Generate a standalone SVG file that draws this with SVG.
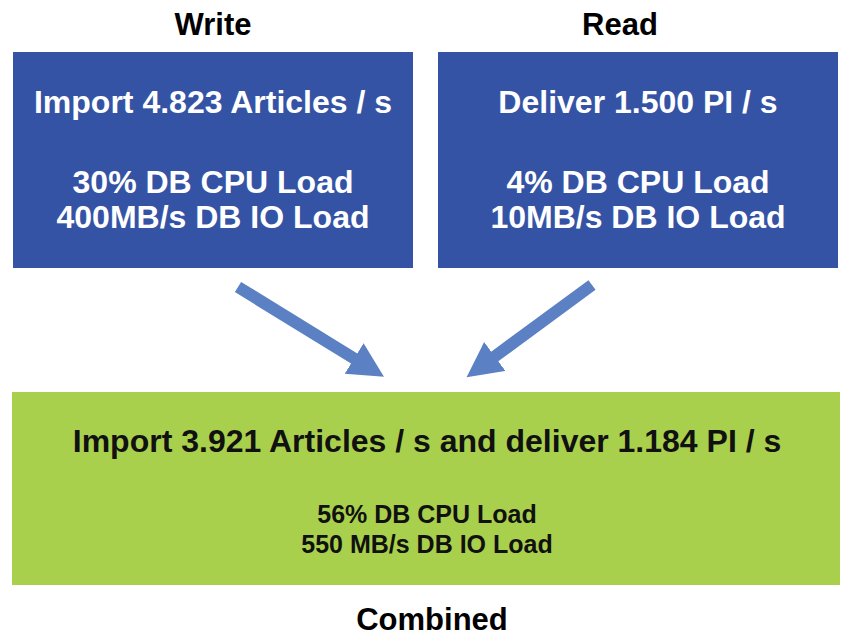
<svg xmlns="http://www.w3.org/2000/svg" width="843" height="637" viewBox="0 0 843 637">
<style>
  text { font-family: "Liberation Sans", Arial, sans-serif; font-weight: bold; text-anchor: middle; }
  .title { font-size: 31px; fill: #000; }
  .w { font-size: 32px; fill: #fff; }
  .g1 { font-size: 32px; fill: #111; }
  .g2 { font-size: 25px; fill: #111; }
  .blue { fill: #3553A5; }
  .green { fill: #A9D04C; }
  .arrow { stroke: #5B80C4; stroke-width: 12; fill: none; }
</style>
<defs>
  <marker id="ah" markerUnits="userSpaceOnUse" markerWidth="36" markerHeight="40" refX="1" refY="18" orient="auto">
    <path d="M0,0 L35,18 L0,36 z" fill="#5B80C4"/>
  </marker>
</defs>
<text class="title" x="213" y="35">Write</text>
<text class="title" x="620" y="35">Read</text>
<g id="write">
  <rect class="blue" x="13" y="52" width="400" height="216"/>
  <text class="w" x="213" y="113">Import 4.823 Articles / s</text>
  <text class="w" x="213" y="193">30% DB CPU Load</text>
  <text class="w" x="213" y="228">400MB/s DB IO Load</text>
</g>
<g id="read">
  <rect class="blue" x="438" y="52" width="400" height="216"/>
  <text class="w" x="638" y="113">Deliver 1.500 PI / s</text>
  <text class="w" x="638" y="193">4% DB CPU Load</text>
  <text class="w" x="638" y="228">10MB/s DB IO Load</text>
</g>
<g id="connectors">
  <line class="arrow" x1="238" y1="287" x2="355" y2="359" marker-end="url(#ah)"/>
  <line class="arrow" x1="592" y1="285" x2="494" y2="357" marker-end="url(#ah)"/>
</g>
<g id="combined">
  <rect class="green" x="12" y="392" width="828" height="193"/>
  <text class="g1" x="427" y="452">Import 3.921 Articles / s and deliver 1.184 PI / s</text>
  <text class="g2" x="427" y="523">56% DB CPU Load</text>
  <text class="g2" x="427" y="553">550 MB/s DB IO Load</text>
</g>
<text class="title" x="432" y="630">Combined</text>
</svg>
